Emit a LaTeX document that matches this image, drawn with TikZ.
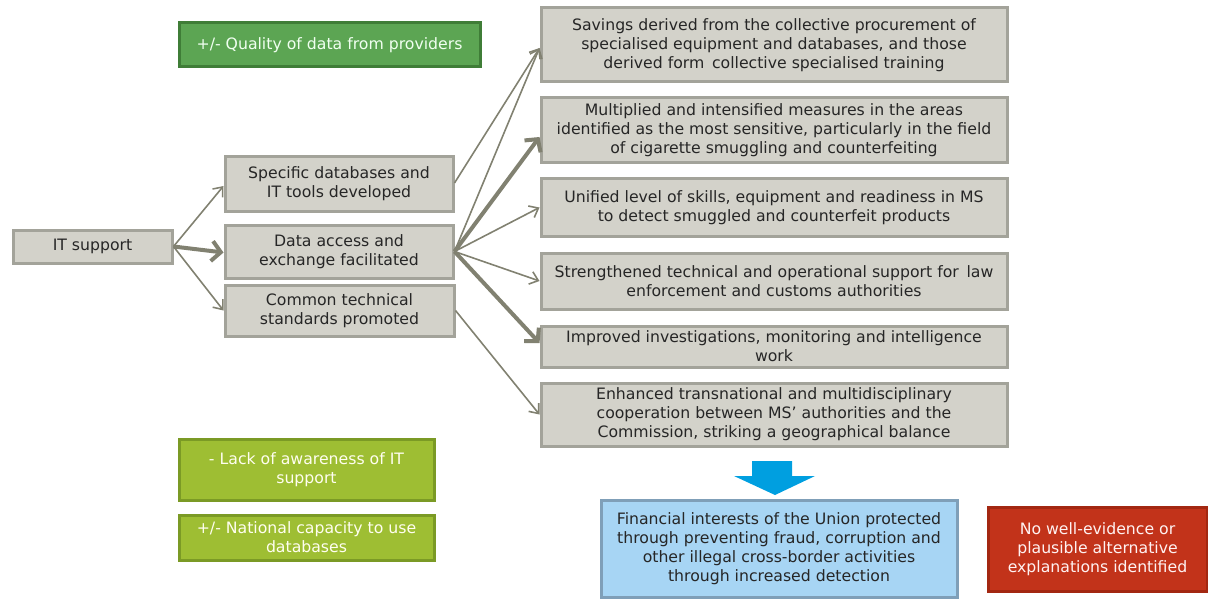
\documentclass[tikz,border=0pt]{standalone}
\usepackage{fontspec}
\setmainfont{DejaVu Sans}
\usetikzlibrary{arrows.meta}
\definecolor{boxfill}{HTML}{D3D2CA}
\definecolor{boxline}{HTML}{A3A39A}
\definecolor{arrowcol}{HTML}{818171}
\definecolor{txt}{HTML}{262626}
\definecolor{greenfill}{HTML}{5CA553}
\definecolor{greenline}{HTML}{3F7D37}
\definecolor{limefill}{HTML}{9EBE33}
\definecolor{limeline}{HTML}{7B9A25}
\definecolor{bluefill}{HTML}{A7D5F4}
\definecolor{blueline}{HTML}{7F9FB8}
\definecolor{bluearrow}{HTML}{009FE0}
\definecolor{redfill}{HTML}{C2331A}
\definecolor{redline}{HTML}{A32812}
\begin{document}
\begin{tikzpicture}[x=1pt,y=-1pt,
  every node/.style={font=\fontsize{15.7}{19}\selectfont, align=center, inner sep=0pt},
  greybox/.style={draw=boxline, fill=boxfill, line width=3pt, text=txt},
  greenbox/.style={draw=greenline, fill=greenfill, line width=3pt, text=white!94!green},
  limebox/.style={draw=limeline, fill=limefill, line width=3pt, text=white!94!yellow},
  bluebox/.style={draw=blueline, fill=bluefill, line width=3pt, text=txt},
  redbox/.style={draw=redline, fill=redfill, line width=3pt, text=white!95!red},
  thin/.style={draw=arrowcol, line width=1.6pt, -{Straight Barb[length=8pt,width=13pt]}},
  thick/.style={draw=arrowcol, line width=4pt, -{Straight Barb[length=9pt,width=20pt]}}
]
\useasboundingbox (0,0) rectangle (1208,599);

% left column
\node[greybox, minimum width=159pt, minimum height=33pt] (it) at (92.5,246.5) {IT support};
\node[greybox, minimum width=228pt, minimum height=54pt] (spec) at (339,184) {Specific databases and\\IT tools developed};
\node[greybox, minimum width=228pt, minimum height=53pt] (data) at (339,251.5) {Data access and\\exchange facilitated};
\node[greybox, minimum width=229pt, minimum height=51pt] (common) at (339.5,310.5) {Common technical\\standards promoted};

% contextual factors
\node[greenbox, minimum width=301pt, minimum height=44pt] (quality) at (329.5,45) {+/- Quality of data from providers};
\node[limebox, minimum width=255pt, minimum height=61pt] (lack) at (306.5,469.5) {- Lack of awareness of IT\\support};
\node[limebox, minimum width=255pt, minimum height=45pt] (natcap) at (306.5,537.5) {+/- National capacity to use\\databases};

% results column
\node[greybox, minimum width=466pt, minimum height=74pt] (sav) at (774,45) {Savings derived from the collective procurement of\\specialised equipment and databases, and those\\derived form\, collective specialised training};
\node[greybox, minimum width=466pt, minimum height=65pt] (mult) at (774,130.5) {Multiplied and intensified measures in the areas\\identified as the most sensitive, particularly in the field\\of cigarette smuggling and counterfeiting};
\node[greybox, minimum width=466pt, minimum height=57pt] (unif) at (774,207.5) {Unified level of skills, equipment and readiness in MS\\to detect smuggled and counterfeit products};
\node[greybox, minimum width=466pt, minimum height=56pt] (str) at (774,281) {Strengthened technical and operational support for\, law\\enforcement and customs authorities};
\node[greybox, minimum width=466pt, minimum height=41pt] (imp) at (774,346.5) {Improved investigations, monitoring and intelligence\\work};
\node[greybox, minimum width=466pt, minimum height=63pt] (enh) at (774,414.5) {Enhanced transnational and multidisciplinary\\cooperation between MS’ authorities and the\\Commission, striking a geographical balance};

% impact and alternative explanations
\node[bluebox, minimum width=356pt, minimum height=97pt] (fin) at (779,549) {Financial interests of the Union protected\\through preventing fraud, corruption and\\other illegal cross-border activities\\through increased detection};
\node[redbox, minimum width=219pt, minimum height=84pt] (alt) at (1097.5,549) {No well-evidence or\\plausible alternative\\explanations identified};

% block arrow towards the impact
\fill[bluearrow] (752,461) -- (792,461) -- (792,476) -- (815,476) -- (775,495) -- (734,476) -- (752,476) -- cycle;

% connectors
\draw[thin] (it.east) -- ([yshift=-2pt]spec.west);
\draw[thick] (it.east) -- ([yshift=-1pt]data.west);
\draw[thin] (it.east) -- (common.west);
\draw[thin] ([yshift=1pt]spec.east) -- ([yshift=-3pt]sav.west);
\draw[thin] (data.east) -- ([yshift=-3pt]sav.west);
\draw[thick] (data.east) -- ([yshift=-6.5pt]mult.west);
\draw[thin] (data.east) -- (unif.west);
\draw[thin] (data.east) -- (str.west);
\draw[thick] (data.east) -- ([yshift=3.5pt]imp.west);
\draw[thin] (common.east) -- (enh.west);
\end{tikzpicture}
\end{document}
